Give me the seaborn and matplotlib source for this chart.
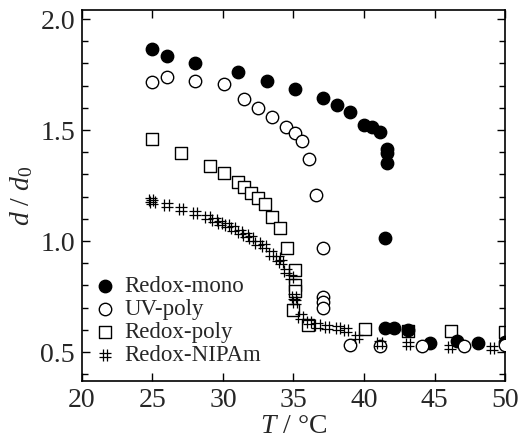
import numpy as np
import pandas as pd
import matplotlib
matplotlib.use("Agg")
import matplotlib.pyplot as plt
from matplotlib.path import Path
from matplotlib.ticker import MultipleLocator
import seaborn as sns

# ----------------------------------------------------------
# data
# ----------------------------------------------------------
mono_T = [25.0, 26.0, 28.0, 31.1, 33.1, 35.1, 37.1, 38.1, 39.0, 40.0, 40.6, 41.1,
          41.6, 41.6, 41.6, 41.5, 41.5, 42.1, 43.1, 44.7, 46.6, 48.1, 50.0]
mono_d = [1.864, 1.833, 1.80, 1.763, 1.722, 1.683, 1.645, 1.613, 1.58, 1.522, 1.515, 1.49,
          1.414, 1.395, 1.35, 1.012, 0.61, 0.61, 0.60, 0.542, 0.55, 0.542, 0.547]

uv_T = [25.0, 26.0, 28.0, 30.1, 31.5, 32.5, 33.5, 34.5, 35.1, 35.6, 36.1, 36.6,
        37.1, 37.1, 37.1, 37.1, 39.0, 41.1, 44.1, 47.1, 50.0]
uv_d = [1.718, 1.74, 1.722, 1.707, 1.638, 1.60, 1.56, 1.515, 1.485, 1.452, 1.368, 1.207,
        0.967, 0.749, 0.724, 0.697, 0.532, 0.528, 0.528, 0.528, 0.532]

poly_T = [25.0, 27.0, 29.05, 30.07, 31.1, 31.5, 32.0, 32.45, 33.0, 33.5, 34.04, 34.54,
          35.1, 35.1, 35.1, 35.0, 36.0, 40.05, 43.1, 46.2, 50.0]
poly_d = [1.458, 1.395, 1.338, 1.305, 1.264, 1.245, 1.215, 1.192, 1.167, 1.11, 1.06, 0.967,
          0.87, 0.80, 0.775, 0.689, 0.62, 0.602, 0.595, 0.595, 0.59]

nipam_T = [24.9, 25.0, 26.0, 27.0, 28.0, 28.9, 29.4, 29.8, 30.3, 30.7, 31.2, 31.6, 32.0,
           32.45, 32.9, 33.4, 33.9, 34.1, 34.5, 34.8, 35.05, 35.1, 35.5, 36.1, 36.7, 37.4,
           38.15, 38.75, 39.5, 41.1, 43.1, 46.1, 49.1]
nipam_d = [1.185, 1.177, 1.162, 1.143, 1.128, 1.11, 1.095, 1.083, 1.072, 1.057, 1.042, 1.027,
           1.012, 0.992, 0.977, 0.944, 0.922, 0.907, 0.865, 0.84, 0.75, 0.727, 0.66, 0.636,
           0.62, 0.614, 0.607, 0.60, 0.569, 0.539, 0.536, 0.524, 0.517]

labels = ["Redox-mono", "UV-poly", "Redox-poly", "Redox-NIPAm"]

# hash (#) marker as a path
h = 0.35
hash_marker = Path(
    [(-h, -1), (-h, 1), (h, -1), (h, 1), (-1, -h), (1, -h), (-1, h), (1, h)],
    [Path.MOVETO, Path.LINETO] * 4,
)

sns.set_style("ticks")
plt.rcParams["font.family"] = ["Liberation Serif", "DejaVu Serif"]
plt.rcParams["mathtext.fontset"] = "custom"
plt.rcParams["mathtext.it"] = "Liberation Serif:italic"
plt.rcParams["mathtext.rm"] = "Liberation Serif"

fig = plt.figure(figsize=(5.25, 4.44), dpi=100)
ax = fig.add_axes([0.156, 0.142, 0.806, 0.835])

sns.scatterplot(x=mono_T, y=mono_d, ax=ax, marker="o", s=80, color="black",
                edgecolor="black", linewidth=1, label=labels[0], zorder=3)
sns.scatterplot(x=uv_T, y=uv_d, ax=ax, marker="o", s=80, facecolor="white",
                edgecolor="black", linewidth=1, label=labels[1], zorder=4)
sns.scatterplot(x=poly_T, y=poly_d, ax=ax, marker="s", s=70, facecolor="white",
                edgecolor="black", linewidth=1, label=labels[2], zorder=2)
sns.scatterplot(x=nipam_T, y=nipam_d, ax=ax, marker=hash_marker, s=75,
                facecolor="none", edgecolor="black", linewidth=0.9,
                label=labels[3], zorder=5)

ax.set_xlim(20, 50)
ax.set_ylim(0.37, 2.04)
ax.xaxis.set_major_locator(MultipleLocator(5))
ax.yaxis.set_major_locator(MultipleLocator(0.5))
ax.yaxis.set_minor_locator(MultipleLocator(0.1))
ax.yaxis.set_major_formatter(matplotlib.ticker.FormatStrFormatter("%.1f"))
ax.tick_params(which="both", direction="in", top=True, right=True, labelsize=20,
               width=1, color="black")
ax.tick_params(which="major", length=6, pad=5)
ax.tick_params(which="minor", length=4)
for sp in ax.spines.values():
    sp.set_linewidth(1.2)
    sp.set_color("black")

ax.set_xlabel(r"$T$ / °C", fontsize=20, labelpad=1)
ax.set_ylabel(r"$d$ / $d_0$", fontsize=20, labelpad=4)

ax.legend(loc="lower left", bbox_to_anchor=(-0.005, 0.004), frameon=False, fontsize=16.5,
          handletextpad=0.35, labelspacing=0.08, borderaxespad=0.2, handlelength=1.0,
          markerscale=1.0)

fig.savefig("out.png", dpi=100)
